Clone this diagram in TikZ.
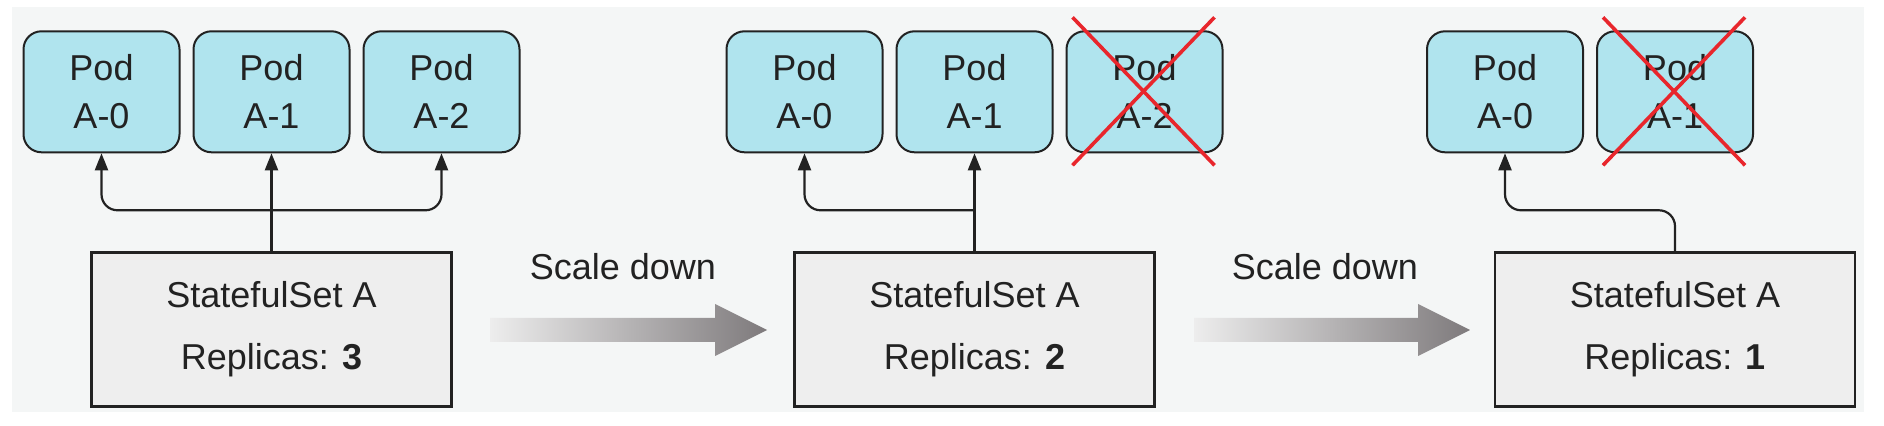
\documentclass[tikz,border=0pt]{standalone}
\usepackage{fontspec}
\setmainfont{Liberation Sans}
\definecolor{pagegray}{HTML}{F4F6F6}
\definecolor{podblue}{HTML}{B0E4EE}
\definecolor{setgray}{HTML}{EEEEEE}
\definecolor{inkgray}{HTML}{222222}
\definecolor{crossred}{HTML}{E8262C}
\definecolor{fadegray}{HTML}{EDEDED}
\definecolor{deepgray}{HTML}{7E7A7C}
\usetikzlibrary{arrows.meta,positioning}

\tikzset{
  pod/.style={draw=inkgray,line width=1pt,fill=podblue,rounded corners=9pt,
    minimum width=78pt,minimum height=60.5pt,align=center,text=inkgray,
    font=\fontsize{18}{24}\selectfont},
  setbox/.style={draw=inkgray,line width=1.2pt,fill=setgray,
    minimum width=180pt,minimum height=77pt,align=center,text=inkgray,
    font=\fontsize{18}{22}\selectfont},
  conn/.style={draw=inkgray,line width=1.1pt,rounded corners=8pt,
    -{Triangle[length=8.5pt,width=6.5pt]}},
  cross/.style={draw=crossred,line width=1.8pt},
  steplabel/.style={text=inkgray,font=\fontsize{18}{22}\selectfont}
}

\begin{document}
\begin{tikzpicture}[x=0.5pt,y=-0.5pt]
        \useasboundingbox (0,0) rectangle (1884,426);
        \fill[pagegray] (12,7) rectangle (1864,412);

        % three replicas
        \node[setbox] (s1) at (271.5,329.5) {StatefulSet A\\[9pt]Replicas: \textbf{3}};
        \node[pod,above=49pt of s1] (p1b) {Pod\\A-1};
        \node[pod,left=6pt of p1b] (p1a) {Pod\\A-0};
        \node[pod,right=6pt of p1b] (p1c) {Pod\\A-2};
        \coordinate[above=20.5pt of s1.north] (j1);
        \draw[conn] (s1.north) -- (p1b.south);
        \draw[conn] (j1) -| (p1a.south);
        \draw[conn] (j1) -| (p1c.south);

        % two replicas
        \node[setbox] (s2) at (974.5,329.5) {StatefulSet A\\[9pt]Replicas: \textbf{2}};
        \node[pod,above=49pt of s2] (p2b) {Pod\\A-1};
        \node[pod,left=6pt of p2b] (p2a) {Pod\\A-0};
        \node[pod,right=6pt of p2b] (p2c) {Pod\\A-2};
        \coordinate[above=20.5pt of s2.north] (j2);
        \draw[conn] (s2.north) -- (p2b.south);
        \draw[conn] (j2) -| (p2a.south);
        \draw[cross] ([shift={(3.5pt,6.5pt)}]p2c.north west) -- ([shift={(-4.5pt,-6pt)}]p2c.south east);
        \draw[cross] ([shift={(-4.5pt,6.5pt)}]p2c.north east) -- ([shift={(3.5pt,-6pt)}]p2c.south west);

        % one replica
        \node[setbox] (s3) at (1675,329.5) {StatefulSet A\\[9pt]Replicas: \textbf{1}};
        \node[pod,above=49pt of s3] (p3b) {Pod\\A-1};
        \node[pod,left=6pt of p3b] (p3a) {Pod\\A-0};
        \coordinate[above=20.5pt of s3.north] (j3);
        \draw[conn] (s3.north) -- (j3) -| (p3a.south);
        \draw[cross] ([shift={(3.5pt,6.5pt)}]p3b.north west) -- ([shift={(-4.5pt,-6pt)}]p3b.south east);
        \draw[cross] ([shift={(-4.5pt,6.5pt)}]p3b.north east) -- ([shift={(3.5pt,-6pt)}]p3b.south west);

        % scale down steps
        \node[steplabel] (t1) at (623,267) {Scale down};
        \node[steplabel] (t2) at (1325,267) {Scale down};
        \shade[left color=fadegray,right color=deepgray]
          (490,318) -- (715,318) -- (715,304) -- (767,330) -- (715,356)
          -- (715,342) -- (490,342) -- cycle;
        \shade[left color=fadegray,right color=deepgray]
          (1194,318) -- (1418,318) -- (1418,304) -- (1470,330) -- (1418,356)
          -- (1418,342) -- (1194,342) -- cycle;
      \end{tikzpicture}
\end{document}
